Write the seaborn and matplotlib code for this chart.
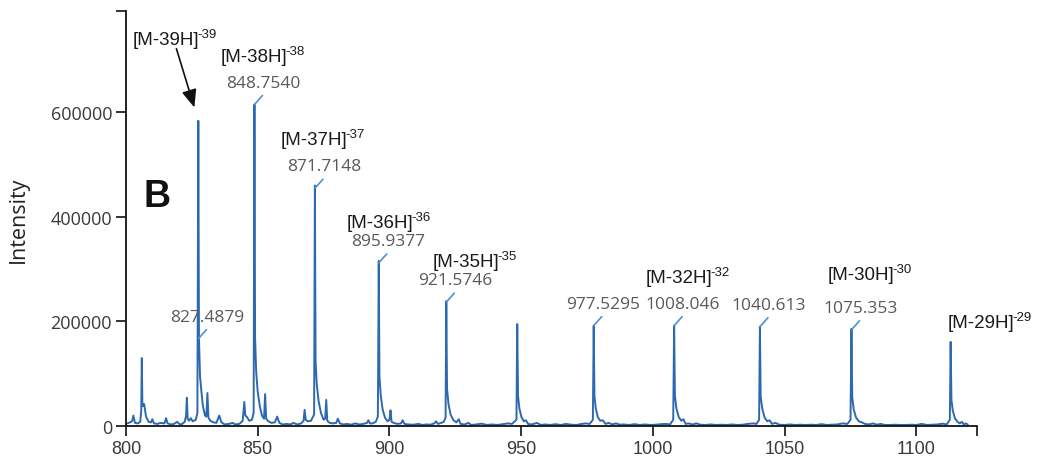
import matplotlib
matplotlib.use("Agg")
import matplotlib.pyplot as plt
import seaborn as sns
import pandas as pd

# spectrum (m/z, intensity), 10 points per row
mz = [
    800.5, 801.5, 802.3, 802.8, 803.4, 804.5, 805.4, 805.8, 806.0, 806.2,
    806.5, 806.9, 807.6, 808.6, 809.5, 810.0, 810.6, 812.0, 813.0, 814.6,
    815.2, 815.8, 817.0, 818.2, 819.4, 820.2, 821.0, 822.3, 822.8, 823.1,
    823.4, 823.9, 824.6, 825.3, 826.5, 827.1, 827.45, 827.7, 828.1, 828.7,
    829.2, 830.0, 830.5, 830.9, 831.3, 832.0, 833.2, 834.3, 835.4, 836.2,
    837.5, 839.0, 840.5, 841.5, 843.0, 844.3, 844.9, 845.3, 845.8, 846.8,
    847.8, 848.45, 848.75, 849.0, 849.4, 850.0, 850.8, 851.6, 852.4, 852.8,
    853.2, 854.0, 855.2, 856.5, 857.4, 858.2, 859.5, 861.0, 862.5, 863.5,
    865.0, 866.5, 867.4, 867.8, 868.2, 869.0, 870.2, 871.4, 871.7, 871.95,
    872.4, 873.1, 874.0, 875.0, 875.6, 876.0, 876.4, 877.3, 878.5, 879.8,
    880.4, 881.2, 882.5, 884.0, 885.5, 887.0, 888.5, 890.0, 891.5, 892.0,
    892.6, 893.6, 894.8, 895.6, 895.94, 896.2, 896.7, 897.4, 898.3, 899.3,
    900.0, 900.4, 900.8, 901.6, 903.0, 904.4, 905.0, 905.7, 907.0, 909.0,
    911.0, 912.5, 914.0, 915.5, 917.0, 917.7, 918.4, 919.6, 920.6, 921.3,
    921.57, 921.85, 922.4, 923.2, 924.3, 925.4, 926.3, 927.0, 928.5, 930.0,
    931.0, 933.0, 935.0, 937.0, 939.0, 941.0, 943.0, 945.0, 946.5, 948.2,
    948.5, 948.8, 949.3, 950.1, 951.0, 951.8, 952.6, 954.0, 956.0, 957.5,
    959.0, 961.0, 963.0, 965.0, 967.0, 969.0, 971.0, 973.0, 974.5, 976.0,
    977.2, 977.53, 977.8, 978.3, 979.1, 980.0, 981.0, 982.0, 983.2, 984.5,
    986.0, 987.5, 989.0, 991.0, 993.0, 995.0, 997.0, 999.0, 1001.0, 1003.0,
    1005.0, 1006.5, 1007.7, 1008.05, 1008.35, 1008.9, 1009.8, 1010.8, 1011.6, 1012.4,
    1013.5, 1015.0, 1016.5, 1018.0, 1020.0, 1022.0, 1024.0, 1026.0, 1028.0, 1030.0,
    1032.0, 1034.0, 1036.0, 1038.0, 1039.3, 1040.3, 1040.61, 1040.9, 1041.5, 1042.4,
    1043.4, 1044.3, 1045.2, 1046.5, 1048.0, 1050.0, 1052.0, 1054.0, 1056.0, 1058.0,
    1060.0, 1062.0, 1064.0, 1066.0, 1068.0, 1070.0, 1072.0, 1073.8, 1075.0, 1075.35,
    1075.65, 1076.2, 1077.1, 1078.2, 1079.3, 1080.5, 1082.0, 1083.5, 1085.0, 1086.5,
    1088.0, 1090.0, 1092.0, 1094.0, 1096.0, 1098.0, 1100.0, 1102.0, 1104.0, 1106.0,
    1108.0, 1110.0, 1111.5, 1112.7, 1113.0, 1113.3, 1113.8, 1114.6, 1115.6, 1116.5,
    1117.3, 1118.0, 1118.7, 1119.5,
]
intensity = [
    5000, 7000, 9000, 20000, 6000, 5000, 8000, 30000, 130000, 45000,
    38000, 42000, 18000, 8000, 7000, 13000, 5000, 4000, 6000, 5000,
    15000, 5000, 3000, 4000, 8000, 4000, 3000, 8000, 20000, 54000,
    14000, 10000, 15000, 9000, 12000, 25000, 584000, 167000, 95000, 62000,
    38000, 20000, 18000, 63000, 16000, 10000, 7000, 6000, 20000, 7000,
    3000, 4000, 6000, 3000, 4000, 10000, 46000, 20000, 18000, 10000,
    12000, 25000, 615000, 170000, 105000, 65000, 38000, 20000, 14000, 61000,
    14000, 9000, 6000, 7000, 18000, 6000, 3000, 4000, 3000, 6000,
    3000, 5000, 10000, 31000, 12000, 9000, 10000, 22000, 460000, 125000,
    80000, 48000, 25000, 12000, 14000, 50000, 10000, 6000, 5000, 6000,
    14000, 5000, 3000, 4000, 2500, 5000, 3000, 4000, 6000, 11000,
    5000, 5000, 8000, 18000, 316000, 95000, 58000, 32000, 16000, 9000,
    12000, 30000, 8000, 6000, 4000, 5000, 11000, 4000, 3000, 2500,
    4000, 2000, 3000, 2500, 5000, 9000, 4000, 6000, 8000, 16000,
    239000, 72000, 42000, 22000, 11000, 7000, 13000, 4000, 3000, 6000,
    2000, 3000, 4500, 2000, 3000, 2000, 3500, 5000, 4000, 12000,
    195000, 58000, 34000, 17000, 9000, 11000, 4000, 3000, 6000, 2000,
    3000, 2000, 3500, 2000, 4000, 2500, 2000, 4000, 5000, 4000,
    12000, 192000, 58000, 34000, 17000, 10000, 11000, 4000, 6000, 3000,
    5000, 2500, 3000, 2000, 3500, 2000, 3000, 2000, 2500, 3500,
    4000, 3000, 12000, 192000, 58000, 34000, 17000, 10000, 13000, 4000,
    5000, 3000, 5000, 2500, 2000, 3000, 2000, 2500, 2000, 3000,
    2000, 2500, 4000, 5000, 4000, 12000, 190000, 56000, 33000, 16000,
    9000, 11000, 4000, 6000, 2500, 2000, 3000, 2000, 2500, 2000,
    2500, 2000, 3500, 2000, 2500, 3000, 5000, 4000, 12000, 186000,
    55000, 32000, 16000, 9000, 7000, 4000, 3000, 5000, 2500, 4000,
    2000, 2000, 2500, 2000, 2000, 2500, 2000, 4000, 2000, 2500,
    3000, 4500, 3000, 12000, 161000, 50000, 30000, 15000, 8000, 5000,
    8000, 3000, 5000, 3000,
]

# centroid labels
peak_labels = ["827.4879", "848.7540", "871.7148", "895.9377", "921.5746",
               "977.5295", "1008.046", "1040.613", "1075.353"]
peak_mz = [827.4879, 848.754, 871.7148, 895.9377, 921.5746,
           977.5295, 1008.046, 1040.613, 1075.353]
peak_anchor = [167000, 615000, 455000, 312000, 237000,
               192000, 192000, 190000, 184000]

# charge state labels
ion_names = ["[M-39H]", "[M-38H]", "[M-37H]", "[M-36H]", "[M-35H]",
             "[M-32H]", "[M-30H]", "[M-29H]"]
ion_charges = ["-39", "-38", "-37", "-36", "-35", "-32", "-30", "-29"]
ion_mz = [827.4879, 848.754, 871.7148, 895.9377, 921.5746,
          1008.046, 1075.353, 1113.0]
ion_anchor = [584000, 615000, 455000, 312000, 237000, 192000, 184000, 161000]
# offsets of the ion labels from their peak (pixels, left edge / middle)
ion_offsets = [(-66, 81), (-34, 48), (-34, 49), (-32, 40), (-14, 41),
               (-28, 48), (-24, 55), (-3, 19)]

x_ticks = [800, 850, 900, 950, 1000, 1050, 1100]
y_ticks = [0, 200000, 400000, 600000]
x_max = 1123
y_max = 794000

line_blue = "#2d69b0"
tick_blue = "#4f8fd6"

sns.set_theme(style="ticks")
plt.rcParams['font.family'] = ['Liberation Sans', 'DejaVu Sans']

fig = plt.figure(figsize=(10.57, 4.6), dpi=100)
ax = fig.add_axes([0.1192, 0.0717, 0.8051, 0.9022])

df = pd.DataFrame({"mz": mz, "Intensity": intensity})
sns.lineplot(data=df, x="mz", y="Intensity", ax=ax, color=line_blue,
             lw=1.4, estimator=None, sort=True)

ax.set_xlim(800, x_max)
ax.set_ylim(0, y_max)
ax.set_xticks(x_ticks + [x_max])
ax.set_xticklabels([str(t) for t in x_ticks] + [""])
ax.set_yticks(y_ticks + [y_max])
ax.set_yticklabels([str(t) for t in y_ticks] + [""])
ax.set_xlabel("")
ax.set_ylabel("Intensity", fontsize=15.5, family=['Open Sans', 'DejaVu Sans'],
              color="#222222")
ax.yaxis.set_label_coords(-0.114, 0.5)

for side in ["top", "right"]:
    ax.spines[side].set_visible(False)
for side in ["left", "bottom"]:
    ax.spines[side].set_linewidth(1.3)
    ax.spines[side].set_color("#111111")
ax.tick_params(axis="both", direction="out", length=7, width=1.2,
               color="#111111", labelcolor="#3a3a3a", labelsize=13, pad=3)
for lab in ax.get_yticklabels():
    lab.set_family(['Open Sans', 'DejaVu Sans'])

# panel letter
ax.text(0.02, 0.554, "B", transform=ax.transAxes, fontsize=27,
        fontweight="bold", color="#111111", ha="left", va="center")

# centroid ticks and m/z labels
for lab, x, y in zip(peak_labels, peak_mz, peak_anchor):
    ax.annotate("", xy=(x, y), xytext=(8, 9), textcoords="offset pixels",
                arrowprops=dict(arrowstyle="-", color=tick_blue, lw=1.2,
                                shrinkA=0, shrinkB=0))
    ax.annotate(lab, xy=(x, y), xytext=(9, 22), textcoords="offset pixels",
                ha="center", va="center", fontsize=12.5, color="#595959",
                family=['Open Sans', 'DejaVu Sans'])

# charge state labels
for name, ch, x, y, off in zip(ion_names, ion_charges, ion_mz, ion_anchor,
                               ion_offsets):
    t = ax.annotate(name, xy=(x, y), xytext=off, textcoords="offset pixels",
                    ha="left", va="center", fontsize=13.5, color="#1a1a1a")
    ax.annotate(ch, xy=(1, 1), xycoords=t, xytext=(-2, 3),
                textcoords="offset pixels", ha="left", va="top",
                fontsize=9.5, color="#1a1a1a")

# arrow to the [M-39H] peak
ax.annotate("", xy=(ion_mz[0], ion_anchor[0]), xytext=(-22, 72),
            textcoords="offset pixels",
            arrowprops=dict(arrowstyle="-|>,head_length=0.6,head_width=0.25",
                            color="#111111", lw=1.2, mutation_scale=18,
                            shrinkA=0, shrinkB=10))

fig.savefig("out.png", dpi=100)
